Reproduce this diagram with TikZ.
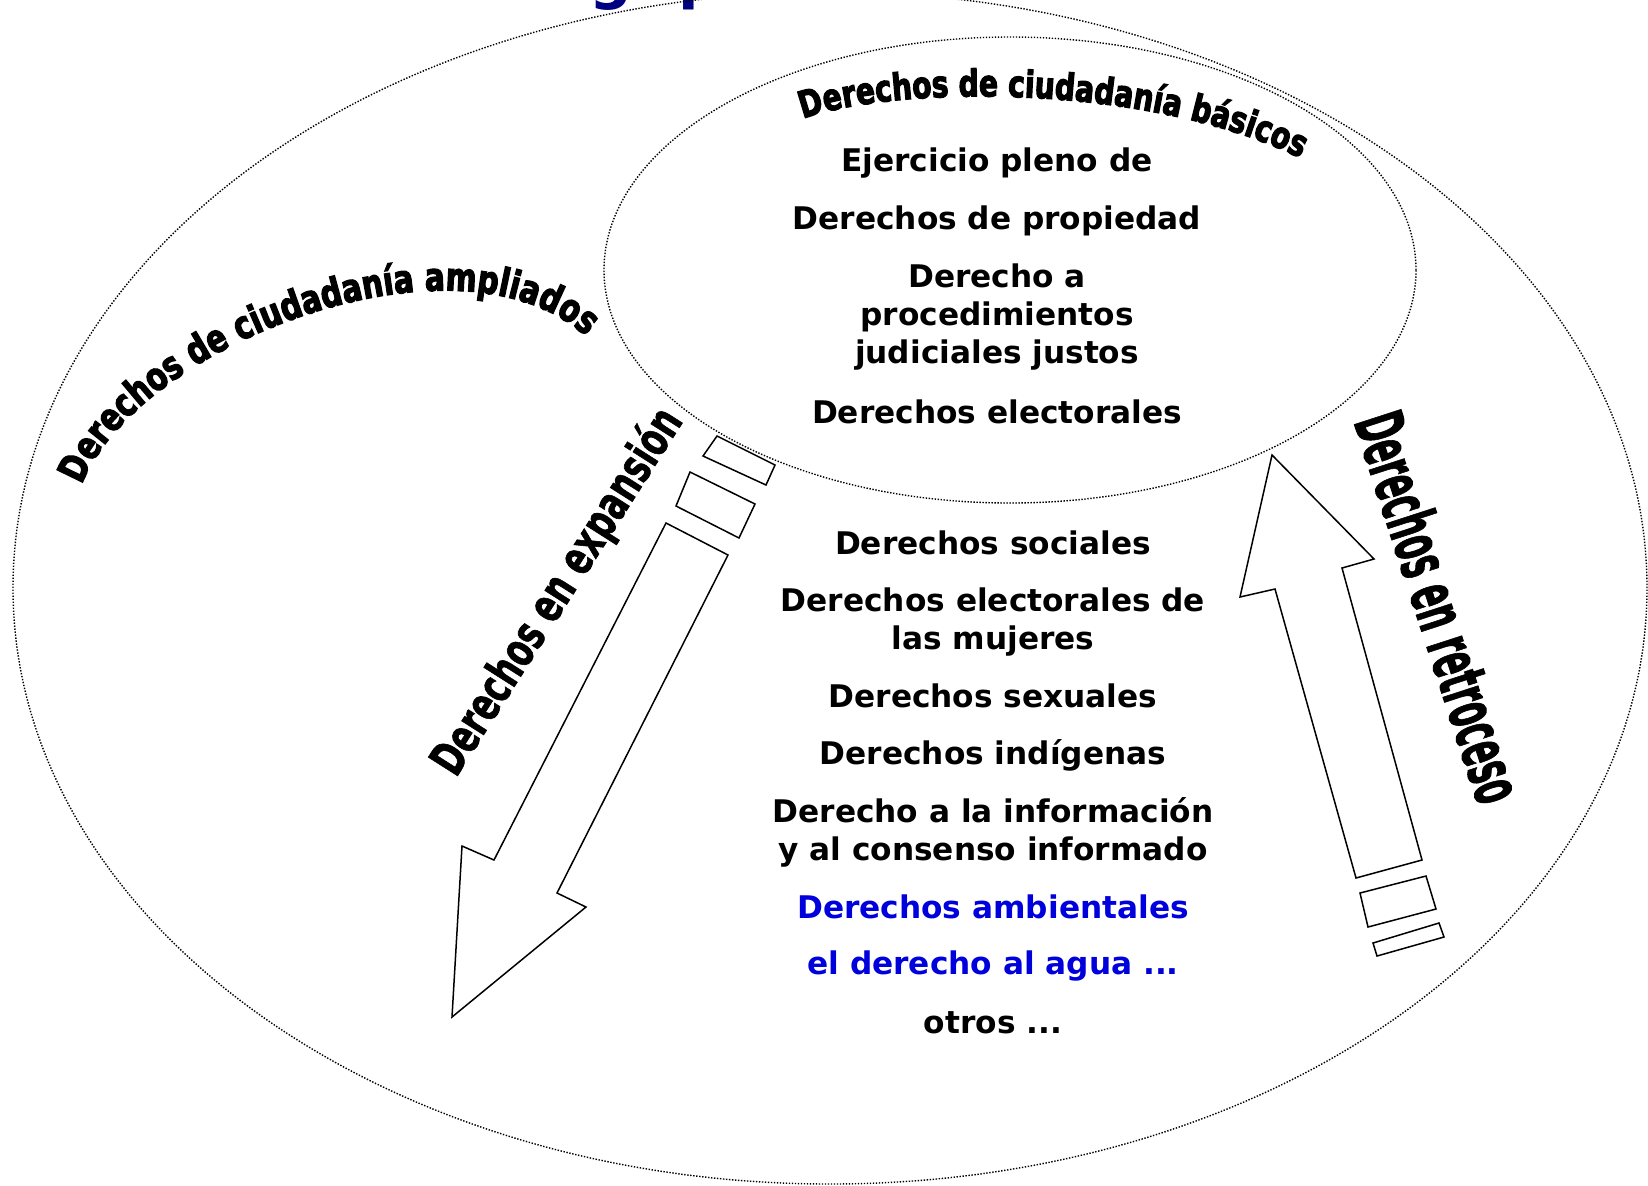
\documentclass[tikz,border=0pt]{standalone}
\usepackage{fontspec}
\setmainfont{DejaVu Sans}
\newfontfamily\wafont{DejaVu Sans}[FakeStretch=0.76, FakeBold=3]
\newfontfamily\condfont{DejaVu Sans Condensed}[FakeBold=1.5]
\usetikzlibrary{decorations.text}
\definecolor{titleblue}{RGB}{0,0,128}
\definecolor{itemblue}{RGB}{0,0,220}
\begin{document}
\begin{tikzpicture}[x=0.5pt,y=-0.5pt,
  dots/.style={line width=0.7pt, dash pattern=on 0.7pt off 0.8pt},
  blockarrow/.style={draw=black, fill=white, line width=0.75pt, line join=miter},
  item/.style={font=\bfseries\fontsize{15.6}{19}\selectfont, align=center, inner sep=0pt},
  blueitem/.style={item, text=itemblue},
  titlefrag/.style={anchor=base, inner sep=0pt, text=titleblue, font=\bfseries\fontsize{30}{30}\selectfont}]
\useasboundingbox (0,0) rectangle (1648,1185);
\clip (0,0) rectangle (1648,1185);

% title fragments (cut off at top)
\node[titlefrag] (tg) at (611,-3) {g};
\node[titlefrag] (tp) at (700,-3) {p};

% ellipses
\draw[dots] (830,588) ellipse [x radius=408.5pt, y radius=298pt];
\draw[dots] (1010,270) ellipse [x radius=203pt, y radius=116.5pt];

% curved titles
\path[decorate, decoration={text along path, text align=center,
  text={|\wafont\bfseries\fontsize{18.5}{18.5}\selectfont|Derechos de ciudadanía básicos}}]
  (795,122) .. controls (880,85) and (1150,80) .. (1308,162);
\path[decorate, decoration={text along path, text align=center,
  text={|\wafont\bfseries\fontsize{19.5}{19.5}\selectfont|Derechos de ciudadanía ampliados}}]
  (80,490) .. controls (126,350) and (460,215) .. (590,340);

% left arrow (down-left)
\draw[blockarrow] (666,523) -- (728,555) -- (557,893) -- (586,907) -- (452,1017)
  -- (462,846) -- (494,860) -- cycle;
\draw[blockarrow] (690,472) -- (755,504) -- (739,538) -- (676,506) -- cycle;
\draw[blockarrow] (717,436) -- (775,465) -- (766,485) -- (703,456) -- cycle;

% right arrow (up)
\draw[blockarrow] (1272,455) -- (1374,559) -- (1342,568) -- (1422,860) -- (1356,878)
  -- (1275,589) -- (1240,597) -- cycle;
\draw[blockarrow] (1360,893) -- (1426,876) -- (1436,909) -- (1368,927) -- cycle;
\draw[blockarrow] (1373,943) -- (1439,923) -- (1444,937) -- (1377,956) -- cycle;

% slanted labels
\node[rotate=57.5, inner sep=0pt] (expan) at (558,592)
  {\resizebox*{212pt}{24pt}{\condfont\bfseries Derechos en expansión}};
\node[rotate=-72, inner sep=0pt] (retro) at (1440,607)
  {\resizebox*{203pt}{26pt}{\condfont\bfseries Derechos en retroceso}};

% inner ellipse items
\node[item] (e1) at (997,163) {Ejercicio pleno de};
\node[item] (e2) at (997,221) {Derechos de propiedad};
\node[item] (e3) at (997,317) {Derecho a\\procedimientos\\judiciales justos};
\node[item] (e4) at (997,412) {Derechos electorales};

% outer items
\node[item] (l1) at (993,543) {Derechos sociales};
\node[item] (l2) at (993,622) {Derechos electorales de\\las mujeres};
\node[item] (l3) at (993,696) {Derechos sexuales};
\node[item] (l4) at (993,755) {Derechos indígenas};
\node[item] (l5) at (993,832) {Derecho a la información\\y al consenso informado};
\node[blueitem] (l6) at (993,907) {Derechos ambientales};
\node[blueitem] (l7) at (993,966) {el derecho al agua ...};
\node[item] (l8) at (993,1023) {otros ...};
\end{tikzpicture}
\end{document}
